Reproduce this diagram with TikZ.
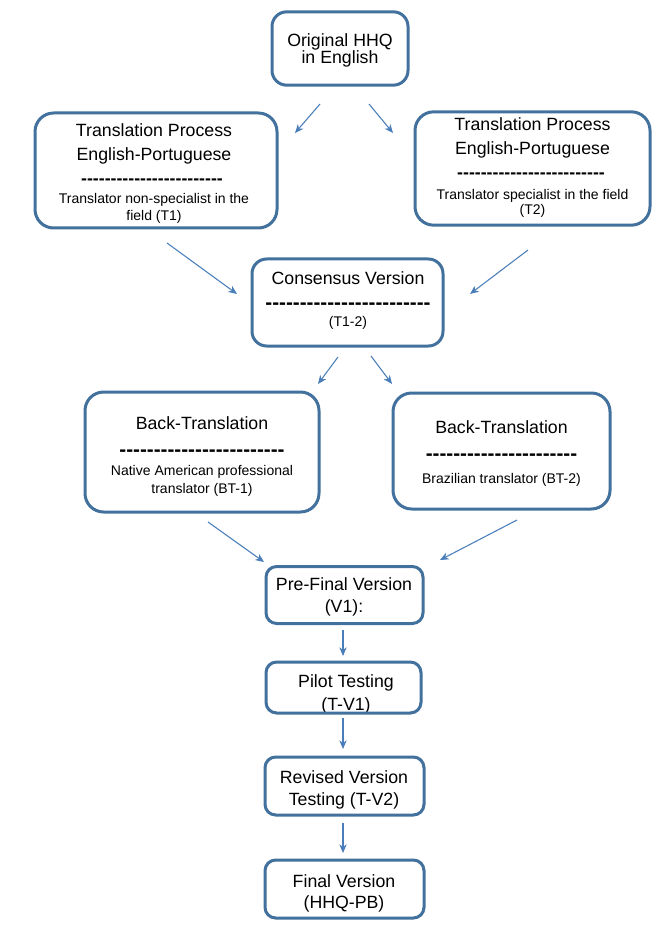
\documentclass[tikz,border=0pt]{standalone}
\usepackage{fontspec}
\setmainfont{Liberation Sans}
\usetikzlibrary{arrows.meta}
\definecolor{boxblue}{RGB}{65,113,156}
\definecolor{arrblue}{RGB}{74,126,187}
\newcommand{\bigf}{\fontsize{13.3}{16}\selectfont}
\newcommand{\smallf}{\fontsize{10.5}{12}\selectfont}
\newcommand{\dashf}{\fontsize{15.5}{17}\selectfont\bfseries}
\newcommand{\dashrow}[1]{\foreach\dd in {1,...,#1}{-}}
\begin{document}
\begin{tikzpicture}[x=0.75pt,y=-0.75pt,
  stepbox/.style={draw=boxblue, line width=2.25pt, rounded corners=11pt,
    inner sep=0pt},
  bigtxt/.style={anchor=base, inner sep=0pt, font=\bigf},
  smalltxt/.style={anchor=base, inner sep=0pt, font=\smallf},
  dashtxt/.style={anchor=base, inner sep=0pt, font=\bigf\bfseries},
  bdashtxt/.style={anchor=base, inner sep=0pt, font=\dashf},
  conn/.style={draw=arrblue, line width=0.8pt, -{Stealth[length=6.5pt,width=5.5pt,inset=2pt]}}]
\useasboundingbox (0,0) rectangle (666,930);
\fill[white] (0,0) rectangle (666,930);

% ---------- texts ----------
\node[bigtxt] (origa) at (340,47) {Original HHQ};
\node[bigtxt] (origb) at (340,64) {in English};

\node[bigtxt] (t1a) at (154,137) {Translation Process};
\node[bigtxt] (t1b) at (154,161) {English-Portuguese};
\node[dashtxt] (t1c) at (152,185) {\dashrow{24}};
\node[smalltxt] (t1d) at (154,204) {Translator non-specialist in the};
\node[smalltxt] (t1e) at (154,221) {field (T1)};

\node[bigtxt] (t2a) at (532.5,131) {Translation Process};
\node[bigtxt] (t2b) at (532.5,155) {English-Portuguese};
\node[dashtxt] (t2c) at (531,179) {\dashrow{25}};
\node[smalltxt] (t2d) at (532.5,200) {Translator specialist in the field};
\node[smalltxt] (t2e) at (532.5,215) {(T2)};

\node[bigtxt] (consa) at (348,284) {Consensus Version};
\node[bdashtxt] (consb) at (348,309) {\dashrow{24}};
\node[smalltxt] (consc) at (348,326) {(T1-2)};

\node[bigtxt] (bt1a) at (202,429) {Back-Translation};
\node[bdashtxt] (bt1b) at (202,456) {\dashrow{24}};
\node[smalltxt] (bt1c) at (202,475) {Native American professional};
\node[smalltxt] (bt1d) at (202,493) {translator (BT-1)};

\node[bigtxt] (bt2a) at (501.5,433) {Back-Translation};
\node[bdashtxt] (bt2b) at (501.5,460) {\dashrow{22}};
\node[smalltxt] (bt2c) at (501.5,483) {Brazilian translator (BT-2)};

\node[bigtxt] (prea) at (344,590) {Pre-Final Version};
\node[bigtxt] (preb) at (344,612) {(V1):};

\node[bigtxt] (pila) at (346,687) {Pilot Testing};
\node[bigtxt] (pilb) at (346,710) {(T-V1)};

\node[bigtxt] (reva) at (344,783) {Revised Version};
\node[bigtxt] (revb) at (344,805) {Testing (T-V2)};

\node[bigtxt] (fina) at (344,887) {Final Version};
\node[bigtxt] (finb) at (344,908) {(HHQ-PB)};

% ---------- boxes ----------
\node[stepbox, minimum width=102pt, minimum height=55pt] (orig) at (340,48.5) {};
\node[stepbox, rounded corners=14pt, minimum width=181.5pt, minimum height=86.25pt] (t1) at (156,170.5) {};
\node[stepbox, rounded corners=14pt, minimum width=176.25pt, minimum height=85pt] (t2) at (532.5,168.5) {};
\node[stepbox, minimum width=143.25pt, minimum height=65.25pt] (cons) at (347.5,302.5) {};
\node[stepbox, rounded corners=14pt, minimum width=175.5pt, minimum height=90pt] (bt1) at (202,452) {};
\node[stepbox, rounded corners=14pt, minimum width=162.75pt, minimum height=87pt] (bt2) at (501.5,451) {};
\node[stepbox, rounded corners=8pt, minimum width=117.75pt, minimum height=42.75pt] (pre) at (344.5,595) {};
\node[stepbox, rounded corners=8pt, minimum width=116.25pt, minimum height=38.25pt] (pilot) at (343.5,687.5) {};
\node[stepbox, rounded corners=8pt, minimum width=119.25pt, minimum height=43.5pt] (rev) at (344.5,786) {};
\node[stepbox, rounded corners=8pt, minimum width=119.25pt, minimum height=43.5pt] (fin) at (344.5,889) {};

% ---------- connector endpoints ----------
\coordinate (o1s) at (320,104); \coordinate (o1e) at (295,133);
\coordinate (o2s) at (369,104); \coordinate (o2e) at (393,133);
\coordinate (c1s) at (167,243); \coordinate (c1e) at (237,294);
\coordinate (c2s) at (528,250); \coordinate (c2e) at (470,294);
\coordinate (b1s) at (338,357); \coordinate (b1e) at (318,384);
\coordinate (b2s) at (371,356); \coordinate (b2e) at (392,384);
\coordinate (p1s) at (208,522); \coordinate (p1e) at (264,562);
\coordinate (p2s) at (517,520); \coordinate (p2e) at (440,560);
\coordinate (v1s) at (343,630); \coordinate (v1e) at (343,656);
\coordinate (v2s) at (343,718); \coordinate (v2e) at (343,749);
\coordinate (v3s) at (343,823); \coordinate (v3e) at (343,853);

\draw[conn] (o1s) -- (o1e);
\draw[conn] (o2s) -- (o2e);
\draw[conn] (c1s) -- (c1e);
\draw[conn] (c2s) -- (c2e);
\draw[conn] (b1s) -- (b1e);
\draw[conn] (b2s) -- (b2e);
\draw[conn] (p1s) -- (p1e);
\draw[conn] (p2s) -- (p2e);
\draw[conn] (v1s) -- (v1e);
\draw[conn] (v2s) -- (v2e);
\draw[conn] (v3s) -- (v3e);
\end{tikzpicture}
\end{document}
